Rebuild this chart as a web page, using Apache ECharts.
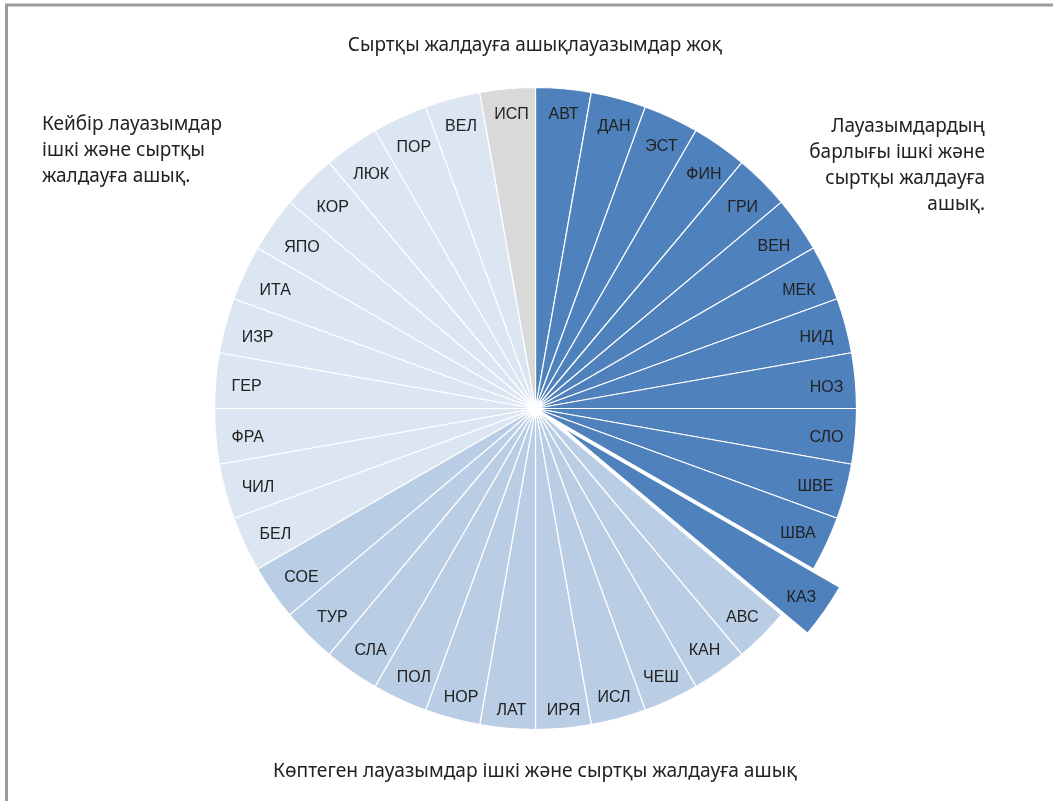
<!DOCTYPE html>
<html>
<head>
<meta charset="utf-8">
<script src="https://cdn.jsdelivr.net/npm/echarts@6/dist/echarts.min.js"></script>
<style>
  html, body { margin: 0; padding: 0; background: #fff; }
  #chart { width: 1053px; height: 801px; }
</style>
</head>
<body>
<div id="chart"></div>
<script>
// Countries, clockwise from 12 o'clock
const countries = [
  'АВТ','ДАН','ЭСТ','ФИН','ГРИ','ВЕН','МЕК','НИД','НОЗ','СЛО','ШВЕ','ШВА','КАЗ',
  'АВС','КАН','ЧЕШ','ИСЛ','ИРЯ','ЛАТ','НОР','ПОЛ','СЛА','ТУР','СОЕ',
  'БЕЛ','ЧИЛ','ФРА','ГЕР','ИЗР','ИТА','ЯПО','КОР','ЛЮК','ПОР','ВЕЛ',
  'ИСП'
];
// Every country gets an equal share of the circle
const shares = [
  1,1,1,1,1,1,1,1,1,1,1,1,1,
  1,1,1,1,1,1,1,1,1,1,1,
  1,1,1,1,1,1,1,1,1,1,1,
  1
];
// Openness group: 0 = all positions open, 1 = many, 2 = some, 3 = none
const groups = [
  0,0,0,0,0,0,0,0,0,0,0,0,0,
  1,1,1,1,1,1,1,1,1,1,1,
  2,2,2,2,2,2,2,2,2,2,2,
  3
];
const highlighted = ['КАЗ'];

const groupColors = ['#4f81bd', '#b9cde5', '#dce6f2', '#d9d9d9'];

const cx = 535.5, cy = 408.5;
const outerR = 321;
const offset = 32;
const labelInset = 12;
const padX = 4, padY = 3.5;

const sliceData = countries.map((name, i) => ({
  name,
  value: shares[i],
  selected: highlighted.includes(name),
  itemStyle: { color: groupColors[groups[i]] }
}));

const chart = echarts.init(document.getElementById('chart'), null, { renderer: 'canvas' });

const sideFont = '"Noto Sans", sans-serif';

// Inside labels sit at mid-radius by default; push each one out so its
// padded box sits just inside the rim ("inside end" placement).
function rimLabel(params) {
  const r = params.labelRect;
  const lx = r.x + r.width / 2;
  const ly = r.y + r.height / 2;
  const ang = Math.atan2(ly - cy, lx - cx);
  const c = Math.cos(ang), s = Math.sin(ang);
  const hw = r.width / 2 + padX, hh = r.height / 2 + padY;
  const target = outerR - labelInset - (Math.abs(c) * hw + Math.abs(s) * hh);
  const delta = target - outerR / 2;
  return { dx: delta * c + 2, dy: delta * s + 4 };
}

chart.setOption({
  animation: false,
  backgroundColor: '#ffffff',
  series: [
    {
      type: 'pie',
      center: [cx, cy],
      radius: [0, outerR],
      startAngle: 90,
      clockwise: true,
      selectedMode: 'single',
      selectedOffset: offset,
      silent: true,
      itemStyle: { borderColor: '#ffffff', borderWidth: 1.2 },
      label: {
        show: true,
        position: 'inside',
        rotate: 0,
        formatter: '{b}',
        color: '#222222',
        fontFamily: 'Liberation Sans',
        fontSize: 16
      },
      labelLine: { show: false },
      labelLayout: rimLabel,
      data: sliceData
    }
  ],
  graphic: [
    { type: 'line', shape: { x1: 5, y1: 5, x2: 1053, y2: 5 }, style: { stroke: '#9a9a9a', lineWidth: 3 } },
    { type: 'line', shape: { x1: 6.5, y1: 4, x2: 6.5, y2: 801 }, style: { stroke: '#9a9a9a', lineWidth: 3 } },
    {
      type: 'text', x: 535, y: 36,
      style: { text: 'Сыртқы жалдауға ашықлауазымдар жоқ', font: '19px ' + sideFont, fill: '#222', textAlign: 'center' }
    },
    {
      type: 'text', left: 42, top: 112,
      style: {
        text: 'Кейбір лауазымдар\nішкі және сыртқы\nжалдауға ашық.',
        font: '19px ' + sideFont, lineHeight: 26, fill: '#222'
      }
    },
    {
      type: 'text', right: 68, top: 114,
      style: {
        text: 'Лауазымдардың\nбарлығы ішкі және\nсыртқы жалдауға\nашық.',
        font: '19px ' + sideFont, lineHeight: 26, fill: '#222', textAlign: 'right'
      }
    },
    {
      type: 'text', x: 535, y: 762,
      style: { text: 'Көптеген лауазымдар ішкі және сыртқы жалдауға ашық', font: '19.2px ' + sideFont, fill: '#222', textAlign: 'center' }
    }
  ]
});
</script>
</body>
</html>
